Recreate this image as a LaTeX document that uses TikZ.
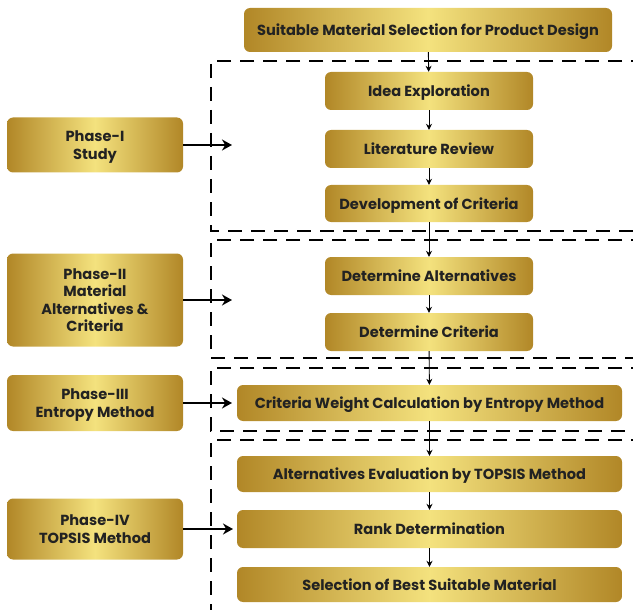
\documentclass[tikz,border=0pt]{standalone}
\usepackage{fontspec}
\setmainfont{Poppins}
\usetikzlibrary{arrows.meta,positioning}

\definecolor{golddark}{HTML}{B18727}
\definecolor{goldlight}{HTML}{F4E27E}
\definecolor{inkgrey}{HTML}{222222}

\tikzset{
  goldbox/.style={rounded corners=6pt, left color=golddark, right color=golddark,
    middle color=goldlight, text=inkgrey, align=center, inner sep=0pt, text depth=0pt,
    font=\bfseries\fontsize{14.6}{17.5}\selectfont},
  stagebox/.style={goldbox, minimum width=208pt, minimum height=38pt},
  widebox/.style={goldbox, minimum width=385pt, minimum height=36pt},
  phasebox/.style={goldbox, minimum width=176pt},
  frame/.style={line width=2.8pt, dash pattern=on 14pt off 9pt},
  flow/.style={line width=0.9pt, -{Stealth[length=6pt,width=6pt]}},
  phaseflow/.style={line width=2pt, -{Stealth[length=10pt,width=11pt]}}
}

\begin{document}
\begin{tikzpicture}[x=1pt,y=-1pt]
    \useasboundingbox (0,0) rectangle (633,610);

    % Phase frames
    \draw[frame] (645,61) -- (211,61) -- (211,231) -- (645,231);
    \draw[frame] (645,240) -- (211,240) -- (211,358) -- (645,358);
    \draw[frame] (645,368) -- (211,368) -- (211,431) -- (645,431);
    \draw[frame] (645,440) -- (211,440) -- (211,625);

    % Main flow
    \node[goldbox, minimum width=368pt, minimum height=44pt] (goal) at (428,30) {Suitable Material Selection for Product Design};
    \node[stagebox] (idea) at (429,91) {Idea Exploration};
    \node[stagebox] (lit) at (429,149) {Literature Review};
    \node[stagebox, minimum height=37pt] (crit) at (429,203.5) {Development of Criteria};
    \node[stagebox] (alts) at (429,276) {Determine Alternatives};
    \node[stagebox] (dcrit) at (429,332) {Determine Criteria};
    \node[widebox] (weight) at (429.5,403) {Criteria Weight Calculation by Entropy Method};
    \node[widebox] (evalt) at (429.5,474) {Alternatives Evaluation by TOPSIS Method};
    \node[widebox, minimum height=38pt] (rank) at (429.5,529) {Rank Determination};
    \node[widebox, minimum height=35pt] (best) at (429.5,584.5) {Selection of Best Suitable Material};

    \draw[flow] (goal) -- (idea);
    \draw[flow] (idea) -- (lit);
    \draw[flow] (lit) -- (crit);
    \draw[flow] (crit) -- (alts);
    \draw[flow] (alts) -- (dcrit);
    \draw[flow] (dcrit) -- (weight);
    \draw[flow] (weight) -- (evalt);
    \draw[flow] (evalt) -- (rank);
    \draw[flow] (rank) -- (best);

    % Phases
    \node[phasebox, minimum height=55pt] (ph1) at (95,145) {Phase-I\\Study};
    \node[phasebox, minimum height=93pt] (ph2) at (95,300) {Phase-II\\Material\\Alternatives \&\\Criteria};
    \node[phasebox, minimum height=56pt] (ph3) at (95,403) {Phase-III\\Entropy Method};
    \node[phasebox, minimum height=61pt] (ph4) at (95,529) {Phase-IV\\TOPSIS Method};

    \path (ph1) ++(137,0) coordinate (in1);
    \path (ph2) ++(137,0) coordinate (in2);
    \path (ph3) ++(137,0) coordinate (in3);
    \path (ph4) ++(138,0) coordinate (in4);
    \draw[phaseflow] (ph1) -- (in1);
    \draw[phaseflow] (ph2) -- (in2);
    \draw[phaseflow] (ph3) -- (in3);
    \draw[phaseflow] (ph4) -- (in4);
\end{tikzpicture}
\end{document}
